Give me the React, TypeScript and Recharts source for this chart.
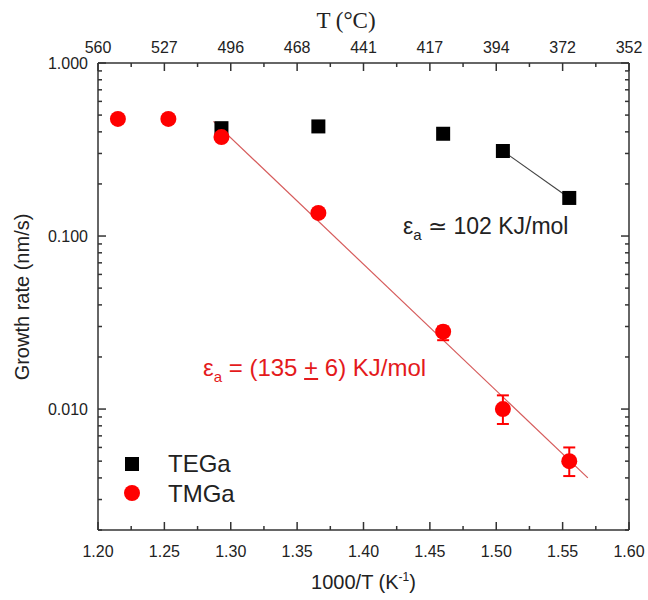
import React from "react";
import { ComposedChart, XAxis, YAxis, Scatter, Line, ErrorBar, Legend } from "recharts";

// axis ticks
const xTicks = [1.2, 1.225, 1.25, 1.275, 1.3, 1.325, 1.35, 1.375, 1.4, 1.425, 1.45, 1.475, 1.5, 1.525, 1.55, 1.575, 1.6];
const xMajor = [1.2, 1.25, 1.3, 1.35, 1.4, 1.45, 1.5, 1.55, 1.6];
const xLabels = ["1.20", "1.25", "1.30", "1.35", "1.40", "1.45", "1.50", "1.55", "1.60"];
const tempLabels = ["560", "527", "496", "468", "441", "417", "394", "372", "352"];
const yTicks = [
  0.002, 0.003, 0.004, 0.005, 0.006, 0.007, 0.008, 0.009,
  0.01, 0.02, 0.03, 0.04, 0.05, 0.06, 0.07, 0.08, 0.09,
  0.1, 0.2, 0.3, 0.4, 0.5, 0.6, 0.7, 0.8, 0.9, 1,
];
const yMajor = [0.01, 0.1, 1];
const yLabels = ["0.010", "0.100", "1.000"];

// TEGa
const tegaX = [1.293, 1.366, 1.46, 1.505, 1.555];
const tegaRate = [0.42, 0.43, 0.39, 0.31, 0.166];

// TMGa
const tmgaX = [1.215, 1.253, 1.293, 1.366, 1.46, 1.505, 1.555];
const tmgaRate = [0.475, 0.475, 0.373, 0.136, 0.028, 0.01, 0.005];
const tmgaErrLow = [0, 0, 0, 0, 0.003, 0.0018, 0.0009];
const tmgaErrHigh = [0, 0, 0, 0, 0.002, 0.002, 0.001];

// fits
const tmgaFitX = [1.287, 1.569];
const tmgaFitRate = [0.46, 0.004];
const tegaFitX = [1.505, 1.555];
const tegaFitRate = [0.31, 0.166];

const tegaData = tegaX.map((x, i) => ({ x, y: tegaRate[i] }));
const tmgaData = tmgaX.map((x, i) => ({ x, y: tmgaRate[i], err: [tmgaErrLow[i], tmgaErrHigh[i]] }));
const tmgaFit = tmgaFitX.map((x, i) => ({ x, y: tmgaFitRate[i] }));
const tegaFit = tegaFitX.map((x, i) => ({ x, y: tegaFitRate[i] }));

const axisColor = "#333";
const textColor = "#222";
const font = "'Liberation Sans', Arial, sans-serif";

const BottomTick = (props: any) => {
  const { x, y, payload } = props;
  const i = xMajor.indexOf(payload.value);
  return (
    <g>
      <line x1={x} y1={y} x2={x} y2={y - (i >= 0 ? 8 : 4)} stroke={axisColor} strokeWidth={1.5} />
      {i >= 0 && (
        <text x={x} y={y + 27} textAnchor="middle" fontSize={16} fill={textColor} fontFamily={font}>
          {xLabels[i]}
        </text>
      )}
    </g>
  );
};

const TopTick = (props: any) => {
  const { x, y, payload } = props;
  const i = xMajor.indexOf(payload.value);
  return (
    <g>
      <line x1={x} y1={y} x2={x} y2={y + (i >= 0 ? 8 : 4)} stroke={axisColor} strokeWidth={1.5} />
      {i >= 0 && (
        <text x={x} y={y - 10} textAnchor="middle" fontSize={16} fill={textColor} fontFamily={font}>
          {tempLabels[i]}
        </text>
      )}
    </g>
  );
};

const LeftTick = (props: any) => {
  const { x, y, payload } = props;
  const i = yMajor.indexOf(payload.value);
  return (
    <g>
      <line x1={x} y1={y} x2={x + (i >= 0 ? 8 : 4)} y2={y} stroke={axisColor} strokeWidth={1.5} />
      {i >= 0 && (
        <text x={x - 10} y={y + 6} textAnchor="end" fontSize={16} fill={textColor} fontFamily={font}>
          {yLabels[i]}
        </text>
      )}
    </g>
  );
};

const RightTick = (props: any) => {
  const { x, y, payload } = props;
  const i = yMajor.indexOf(payload.value);
  return <line x1={x} y1={y} x2={x - (i >= 0 ? 8 : 4)} y2={y} stroke={axisColor} strokeWidth={1.5} />;
};

const Square = (p: any) => <rect x={p.cx - 7} y={p.cy - 7} width={14} height={14} fill="#000" />;
const Dot = (p: any) => <circle cx={p.cx} cy={p.cy} r={8} fill="#ff0000" />;

const LegendBox = () => (
  <svg width={130} height={70} style={{ display: "block" }}>
    <rect x={7} y={9} width={14} height={14} fill="#000" />
    <text x={50} y={24} fontSize={24} fill={textColor} fontFamily={font}>TEGa</text>
    <circle cx={14} cy={45} r={8} fill="#ff0000" />
    <text x={50} y={54} fontSize={24} fill={textColor} fontFamily={font}>TMGa</text>
  </svg>
);

export default function App() {
  return (
    <div style={{ position: "absolute", left: 0, top: 0, width: 648, height: 600, fontFamily: font, background: "#fff", overflow: "hidden" }}>
      <ComposedChart width={648} height={600} margin={{ top: 0, right: 0, bottom: 0, left: 0 }} style={{ overflow: "visible" }}>
        <XAxis
          dataKey="x"
          type="number"
          domain={[1.2, 1.6]}
          ticks={xTicks}
          interval={0}
          allowDataOverflow
          height={70}
          tickSize={0}
          tickMargin={0}
          tick={BottomTick}
          axisLine={{ stroke: axisColor, strokeWidth: 1.5 }}
        />
        <XAxis
          xAxisId="top"
          orientation="top"
          dataKey="x"
          type="number"
          domain={[1.2, 1.6]}
          ticks={xTicks}
          interval={0}
          allowDataOverflow
          height={63}
          tickSize={0}
          tickMargin={0}
          tick={TopTick}
          axisLine={{ stroke: axisColor, strokeWidth: 1.5 }}
        />
        <YAxis
          dataKey="y"
          type="number"
          scale="log"
          domain={[0.002, 1]}
          ticks={yTicks}
          interval={0}
          allowDataOverflow
          width={98}
          tickSize={0}
          tickMargin={0}
          tick={LeftTick}
          axisLine={{ stroke: axisColor, strokeWidth: 1.5 }}
        />
        <YAxis
          yAxisId="right"
          orientation="right"
          dataKey="y"
          type="number"
          scale="log"
          domain={[0.002, 1]}
          ticks={yTicks}
          interval={0}
          allowDataOverflow
          width={19}
          tickSize={0}
          tickMargin={0}
          tick={RightTick}
          axisLine={{ stroke: axisColor, strokeWidth: 1.5 }}
        />
        <Line data={tmgaFit} dataKey="y" stroke="#d65b5b" strokeWidth={1.2} dot={false} isAnimationActive={false} legendType="none" />
        <Line data={tegaFit} dataKey="y" stroke="#444" strokeWidth={1.2} dot={false} isAnimationActive={false} legendType="none" />
        <Scatter name="TEGa" data={tegaData} shape={Square} isAnimationActive={false} />
        <Scatter name="TMGa" data={tmgaData} shape={Dot} isAnimationActive={false}>
          <ErrorBar dataKey="err" direction="y" width={6} stroke="#ff0000" strokeWidth={2} />
        </Scatter>
        <Legend
          layout="horizontal"
          verticalAlign="middle"
          align="center"
          wrapperStyle={{ left: 118, top: 448, width: 130 }}
          content={LegendBox}
        />
      </ComposedChart>

      <div style={{ position: "absolute", left: 0, top: 8, width: 692, textAlign: "center", fontFamily: "'Liberation Serif', 'Times New Roman', serif", fontSize: 23, color: textColor }}>
        T (°C)
      </div>
      <div style={{ position: "absolute", left: 98, top: 570, width: 531, textAlign: "center", fontSize: 20, color: textColor }}>
        1000/T (K<sup style={{ fontSize: 12 }}>-1</sup>)
      </div>
      <div
        style={{
          position: "absolute",
          left: 22,
          top: 297,
          transform: "translate(-50%, -50%) rotate(-90deg)",
          whiteSpace: "nowrap",
          fontSize: 20,
          color: textColor,
        }}
      >
        Growth rate (nm/s)
      </div>
      <div style={{ position: "absolute", left: 403, top: 213, whiteSpace: "nowrap", fontSize: 23, color: textColor }}>
        ε<sub style={{ fontSize: 15 }}>a</sub> ≃ 102 KJ/mol
      </div>
      <div style={{ position: "absolute", left: 203, top: 354, whiteSpace: "nowrap", fontSize: 24, color: "#e41a1c" }}>
        ε<sub style={{ fontSize: 15 }}>a</sub> = (135 <span style={{ textDecoration: "underline" }}>+</span> 6) KJ/mol
      </div>
    </div>
  );
}
